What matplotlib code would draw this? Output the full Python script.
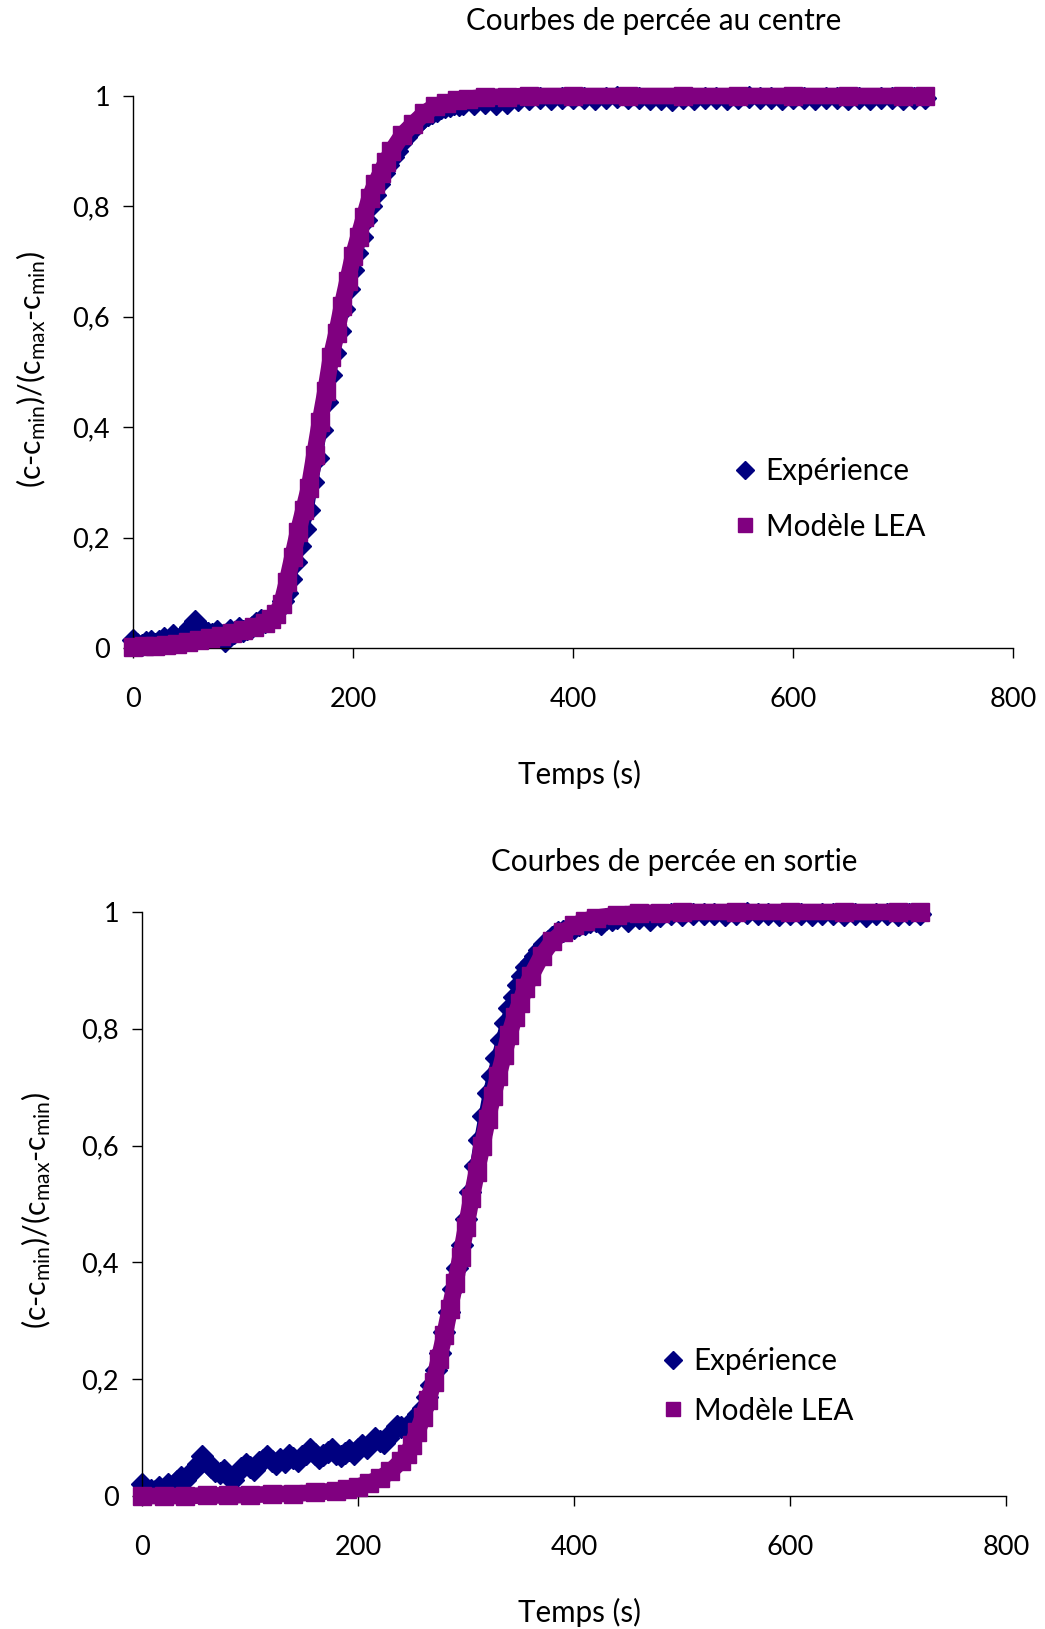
import matplotlib
matplotlib.use("Agg")
import matplotlib.pyplot as plt
from matplotlib.lines import Line2D

plt.rcParams['font.family'] = ['Lato', 'DejaVu Sans']
plt.rcParams['mathtext.fontset'] = 'custom'
plt.rcParams['mathtext.rm'] = 'Lato'
plt.rcParams['mathtext.it'] = 'Lato'

NAVY = '#000080'
PURPLE = '#800080'

# ---------------- data : top chart (centre) ----------------
t_model_top = [0, 10, 20, 30, 40, 50, 60, 70, 80, 90, 100, 110, 120, 125, 130, 135, 140, 145,
               150, 155, 160, 165, 170, 175, 180, 185, 190, 195, 200, 205, 210, 215, 220, 225,
               230, 235, 245, 255, 265, 275, 285, 295, 305, 320, 340, 360, 400, 450, 500, 550,
               600, 650, 700, 720]
y_model_top = [0.002, 0.003, 0.004, 0.006, 0.008, 0.011, 0.014, 0.018, 0.022, 0.027, 0.033, 0.038,
               0.045, 0.052, 0.062, 0.080, 0.120, 0.165, 0.210, 0.250, 0.290, 0.350, 0.410, 0.465,
               0.527, 0.570, 0.620, 0.665, 0.710, 0.745, 0.780, 0.815, 0.840, 0.860, 0.880, 0.900,
               0.930, 0.950, 0.969, 0.982, 0.988, 0.992, 0.995, 0.998, 0.999, 1.0, 1.0, 1.0, 1.0,
               1.0, 1.0, 1.0, 1.0, 1.0]

t_exp_top = [0, 4, 8, 12, 16, 20, 24, 28, 32, 36, 40, 44, 48, 52, 56, 60, 64, 68, 72, 76, 80, 84,
             88, 92, 96, 100, 104, 108, 112, 116, 120, 124, 128, 132, 136, 140, 144, 148, 152, 156,
             160, 164, 168, 172, 176, 180, 184, 188, 192, 196, 200, 204, 208, 212, 216, 220, 224,
             228, 232, 236, 240, 244, 248, 252, 256, 260, 264, 268, 272, 276, 280, 284, 288, 292,
             296, 300, 310, 320, 330, 340, 350, 360, 370, 380, 390, 400, 410, 420, 430, 440, 450,
             460, 470, 480, 490, 500, 510, 520, 530, 540, 550, 560, 570, 580, 590, 600, 610, 620,
             630, 640, 650, 660, 670, 680, 690, 700, 710, 720]
y_exp_top = [0.015, 0.008, 0.006, 0.010, 0.013, 0.007, 0.012, 0.018, 0.012, 0.024, 0.016, 0.020,
             0.028, 0.038, 0.049, 0.040, 0.033, 0.028, 0.026, 0.031, 0.024, 0.013, 0.033, 0.028,
             0.036, 0.030, 0.034, 0.038, 0.045, 0.051, 0.048, 0.052, 0.060, 0.068, 0.085, 0.100,
             0.125, 0.155, 0.185, 0.215, 0.250, 0.300, 0.345, 0.395, 0.445, 0.495, 0.535, 0.575,
             0.615, 0.650, 0.685, 0.715, 0.745, 0.775, 0.800, 0.820, 0.840, 0.860, 0.875, 0.890,
             0.900, 0.915, 0.925, 0.935, 0.945, 0.952, 0.960, 0.965, 0.970, 0.972, 0.978, 0.980,
             0.981, 0.985, 0.983, 0.986, 0.985, 0.987, 0.986, 0.988, 0.992, 0.995, 0.996, 0.994,
             0.997, 0.996, 0.997, 0.995, 0.997, 0.998, 0.996, 0.997, 0.994, 0.995, 0.993, 0.996,
             0.994, 0.997, 0.996, 0.995, 0.997, 0.998, 0.996, 0.997, 0.995, 0.996, 0.997, 0.995,
             0.996, 0.997, 0.995, 0.996, 0.994, 0.996, 0.997, 0.995, 0.996, 0.996]

# ---------------- data : bottom chart (sortie) ----------------
t_model_bot = [0, 20, 40, 60, 80, 100, 120, 140, 160, 180, 190, 200, 210, 220, 230, 240, 245, 250,
               255, 260, 265, 270, 275, 280, 285, 290, 295, 300, 305, 310, 315, 320, 325, 330, 335,
               340, 345, 350, 355, 360, 370, 380, 390, 400, 410, 420, 440, 460, 480, 500, 550, 600,
               650, 700, 720]
y_model_bot = [0.0, 0.0, 0.0, 0.001, 0.001, 0.002, 0.003, 0.004, 0.006, 0.009, 0.012, 0.016, 0.022,
               0.030, 0.042, 0.060, 0.072, 0.088, 0.110, 0.135, 0.165, 0.195, 0.235, 0.275, 0.320,
               0.365, 0.410, 0.460, 0.510, 0.555, 0.600, 0.645, 0.685, 0.720, 0.755, 0.790, 0.820,
               0.845, 0.870, 0.890, 0.925, 0.950, 0.966, 0.977, 0.985, 0.990, 0.995, 0.998, 0.999,
               1.0, 1.0, 1.0, 1.0, 1.0, 1.0]

t_exp_bot = [0, 4, 8, 12, 16, 20, 24, 28, 32, 36, 40, 44, 48, 52, 56, 60, 64, 68, 72, 76, 80, 84,
             88, 92, 96, 100, 104, 108, 112, 116, 120, 124, 128, 132, 136, 140, 144, 148, 152, 156,
             160, 164, 168, 172, 176, 180, 184, 188, 192, 196, 200, 204, 208, 212, 216, 220, 224,
             228, 232, 236, 240, 244, 248, 252, 256, 260, 264, 268, 272, 276, 280, 284, 288, 292,
             296, 300, 304, 308, 312, 316, 320, 324, 328, 332, 336, 340, 344, 348, 352, 356, 360,
             364, 368, 372, 376, 380, 385, 390, 395, 400, 405, 410, 415, 420, 425, 430, 435, 440,
             450, 460, 470, 480, 490, 500, 510, 520, 530, 540, 550, 560, 570, 580, 590, 600, 610,
             620, 630, 640, 650, 660, 670, 680, 690, 700, 710, 720]
y_exp_bot = [0.021, 0.012, 0.010, 0.008, 0.015, 0.012, 0.020, 0.016, 0.025, 0.033, 0.028, 0.040,
             0.045, 0.055, 0.068, 0.058, 0.050, 0.042, 0.040, 0.045, 0.035, 0.027, 0.040, 0.048,
             0.055, 0.050, 0.045, 0.058, 0.062, 0.068, 0.060, 0.055, 0.063, 0.058, 0.070, 0.065,
             0.060, 0.068, 0.072, 0.080, 0.072, 0.065, 0.070, 0.075, 0.080, 0.072, 0.068, 0.074,
             0.078, 0.072, 0.080, 0.087, 0.082, 0.090, 0.100, 0.095, 0.090, 0.100, 0.112, 0.120,
             0.118, 0.115, 0.125, 0.130, 0.140, 0.150, 0.170, 0.190, 0.215, 0.245, 0.280, 0.315,
             0.355, 0.390, 0.430, 0.475, 0.520, 0.565, 0.610, 0.650, 0.690, 0.720, 0.750, 0.780,
             0.810, 0.835, 0.855, 0.875, 0.890, 0.905, 0.915, 0.925, 0.935, 0.945, 0.950, 0.958,
             0.965, 0.968, 0.975, 0.972, 0.978, 0.980, 0.983, 0.985, 0.980, 0.988, 0.986, 0.990,
             0.985, 0.990, 0.986, 0.994, 0.996, 0.995, 0.997, 0.996, 0.997, 0.995, 0.997, 0.998,
             0.996, 0.997, 0.995, 0.996, 0.997, 0.995, 0.996, 0.997, 0.995, 0.996, 0.994, 0.996,
             0.997, 0.995, 0.996, 0.996]

x_ticks = [0, 200, 400, 600, 800]
y_ticks = [0, 0.2, 0.4, 0.6, 0.8, 1.0]
y_tick_labels = ['0', '0,2', '0,4', '0,6', '0,8', '1']
legend_labels = ['Expérience', 'Modèle LEA']
titles = ['Courbes de percée au centre', 'Courbes de percée en sortie']
xlabel = 'Temps (s)'
ylabel = r'(c-c$_{\mathregular{min}}$)/(c$_{\mathregular{max}}$-c$_{\mathregular{min}}$)'

W, H = 1045, 1629
fig = plt.figure(figsize=(W / 100, H / 100), dpi=100)

FS = 19.5     # tick labels
FT = 21.3     # other texts


def make_axes(rect, t_exp, y_exp, t_mod, y_mod):
    ax = fig.add_axes(rect)
    ax.plot(t_exp, y_exp, color=NAVY, lw=7, solid_capstyle='butt', clip_on=False, zorder=2)
    ax.plot(t_exp, y_exp, ls='none', marker='D', ms=11, color=NAVY, mec=NAVY,
            clip_on=False, zorder=2)
    ax.plot(t_mod, y_mod, color=PURPLE, lw=12, solid_capstyle='butt', clip_on=False, zorder=3)
    ax.plot(t_mod, y_mod, ls='none', marker='s', ms=12.5, color=PURPLE, mec=PURPLE,
            clip_on=False, zorder=3)
    ax.set_xlim(0, 800)
    ax.set_ylim(0, 1)
    ax.set_xticks(x_ticks)
    ax.set_yticks(y_ticks)
    ax.set_yticklabels(y_tick_labels)
    for s in ['top', 'right']:
        ax.spines[s].set_visible(False)
    for s in ['left', 'bottom']:
        ax.spines[s].set_linewidth(1.0)
        ax.spines[s].set_color('#000000')
    ax.tick_params(axis='both', direction='out', length=7, width=1.0, labelsize=FS,
                   colors='#000000')
    ax.tick_params(axis='y', pad=9.5)
    ax.tick_params(axis='x', pad=21)
    return ax


# top chart
ax1 = make_axes([133 / W, 1 - 648 / H, 880 / W, 552 / H],
                t_exp_top, y_exp_top, t_model_top, y_model_top)
# bottom chart
ax2 = make_axes([142 / W, 1 - 1496 / H, 864 / W, 584 / H],
                t_exp_bot, y_exp_bot, t_model_bot, y_model_bot)

fig.text(654 / W, 1 - 21 / H, titles[0], ha='center', va='center', fontsize=FT)
fig.text(674 / W, 1 - 862 / H, titles[1], ha='center', va='center', fontsize=FT)
fig.text(580 / W, 1 - 774 / H, xlabel, ha='center', va='center', fontsize=FT)
fig.text(580 / W, 1 - 1612 / H, xlabel, ha='center', va='center', fontsize=FT)
fig.text(31 / W, 1 - 369 / H, ylabel, ha='center', va='center', rotation=90, fontsize=21.8)
fig.text(36 / W, 1 - 1210 / H, ylabel, ha='center', va='center', rotation=90, fontsize=21.8)

handles = [Line2D([], [], ls='none', marker='D', ms=9, color=NAVY),
           Line2D([], [], ls='none', marker='s', ms=9.5, color=PURPLE)]

ax1.legend(handles, legend_labels, loc='center left', frameon=False, fontsize=FT,
           bbox_to_anchor=(730 / W, 1 - 499 / H), bbox_transform=fig.transFigure,
           borderpad=0, borderaxespad=0, handlelength=1.0, handletextpad=0.2,
           labelspacing=0.93)
ax2.legend(handles, legend_labels, loc='center left', frameon=False, fontsize=FT,
           bbox_to_anchor=(658 / W, 1 - 1386 / H), bbox_transform=fig.transFigure,
           borderpad=0, borderaxespad=0, handlelength=1.0, handletextpad=0.2,
           labelspacing=0.73)

fig.savefig('out.png', dpi=100)
